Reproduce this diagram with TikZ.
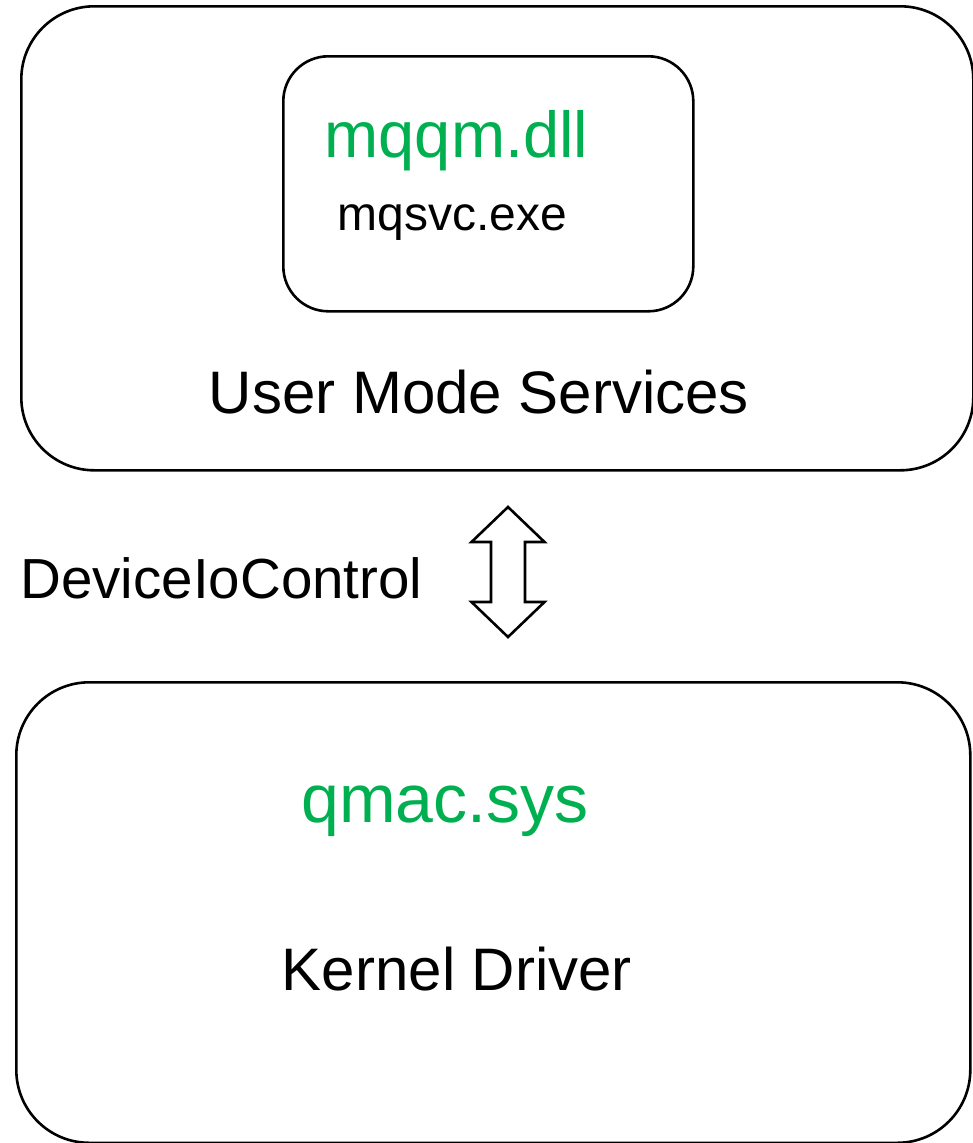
\documentclass[tikz,border=0pt]{standalone}
\usepackage{fontspec}
\setmainfont{Liberation Sans}
\usetikzlibrary{calc}

\definecolor{officegreen}{HTML}{00B050}

\tikzset{
  panel/.style={draw, line width=2.6pt, rounded corners=73pt, inner sep=0pt, anchor=north west},
  procbox/.style={panel, rounded corners=45pt},
  caption/.style={inner sep=0pt, anchor=base},
  modname/.style={caption, text=officegreen},
}

\begin{document}
\begin{tikzpicture}[x=1pt, y=-1pt]
  \useasboundingbox (0,0) rectangle (973,1143);

  % User mode side
  \node[panel, minimum width=952pt, minimum height=464pt] (user) at (20,5) {};
  \node[procbox, minimum width=410pt, minimum height=255pt] (svc) at (282,55) {};
  \node[modname, font=\fontsize{65}{78}\selectfont] (dll) at (456.5,157) {mqqm.dll};
  \node[caption, font=\fontsize{48}{58}\selectfont] (exe) at (452.5,230) {mqsvc.exe};
  \node[caption, font=\fontsize{60}{72}\selectfont] (usertext) at (479,413) {User Mode Services};

  % Kernel side
  \node[panel, minimum width=954pt, minimum height=460.5pt] (kernel) at (15,681) {};
  \node[modname, font=\fontsize{68}{80}\selectfont] (sys) at (445,822) {qmac.sys};
  \node[caption, font=\fontsize{60}{72}\selectfont] (kerneltext) at (457,990) {Kernel Driver};

  % DeviceIoControl link
  \node[caption, font=\fontsize{56.5}{68}\selectfont] (ioctl) at (221.5,598) {DeviceIoControl};
  \coordinate (io) at (508,572);
  \draw[line width=2.6pt, line join=miter]
    ($(io)+(0,-65)$) -- ($(io)+(36.5,-30)$) -- ($(io)+(17,-30)$)
    -- ($(io)+(17,30)$) -- ($(io)+(36.5,30)$) -- ($(io)+(0,65)$)
    -- ($(io)+(-36.5,30)$) -- ($(io)+(-17,30)$) -- ($(io)+(-17,-30)$)
    -- ($(io)+(-36.5,-30)$) -- cycle;
\end{tikzpicture}
\end{document}
